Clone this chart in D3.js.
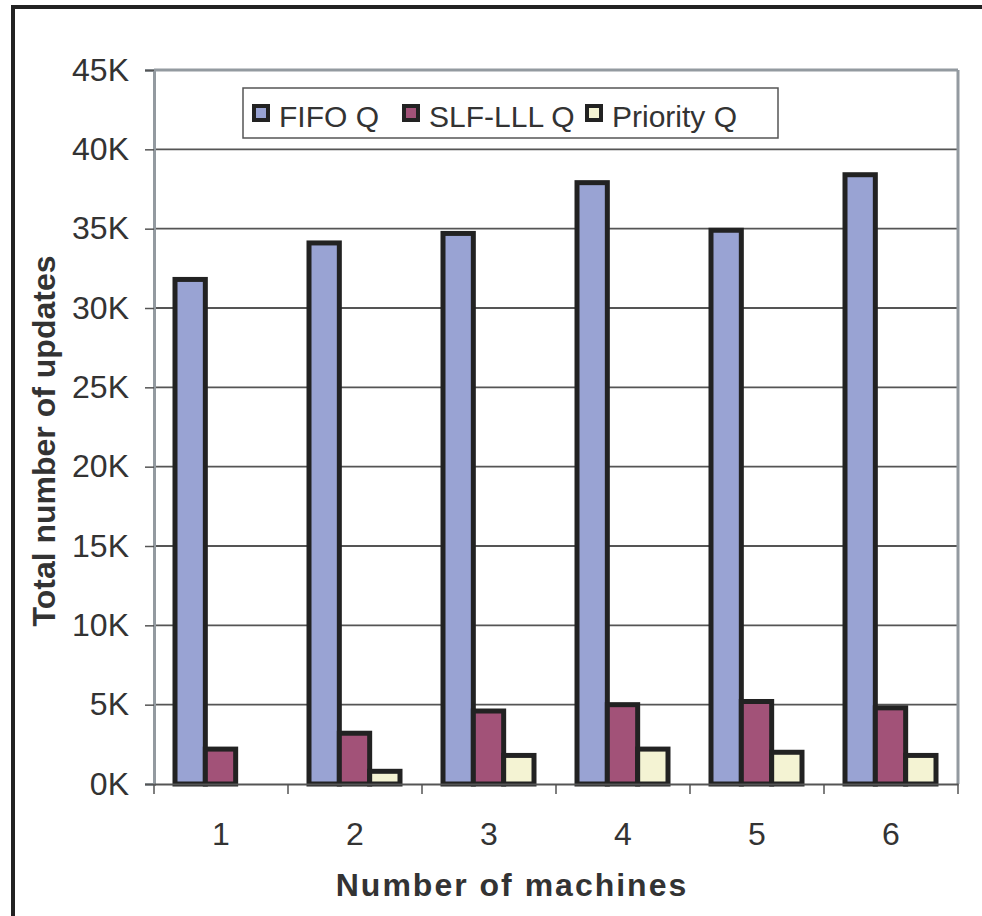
<!DOCTYPE html>
<html><head><meta charset="utf-8">
<script src="https://cdn.jsdelivr.net/npm/d3@7"></script>
<style>body{margin:0;background:#fff}svg{display:block}</style>
</head><body>
<svg id="c" width="982" height="916"></svg>
<script>
const categories = ["1","2","3","4","5","6"];
const seriesNames = ["FIFO Q","SLF-LLL Q","Priority Q"];
const fifo = [31.8, 34.1, 34.7, 37.9, 34.9, 38.4];
const slf = [2.2, 3.2, 4.6, 5.0, 5.2, 4.8];
const prio = [0, 0.8, 1.8, 2.2, 2.0, 1.8];
const yTicks = [0,5,10,15,20,25,30,35,40,45];
const colors = ["#99a3d3","#a25278","#f4f3d3"];
const series = [fifo, slf, prio];

const svg = d3.select("#c");
const L=154, R=958, T=70, B=784;
const font = "'Liberation Sans', Arial, sans-serif";

// outer frame
svg.append("rect").attr("x",13).attr("y",7).attr("width",1100).attr("height",1100)
  .attr("fill","none").attr("stroke","#222").attr("stroke-width",4);

const x = d3.scaleBand().domain(categories).range([L,R]);
const xs = d3.scaleBand().domain(seriesNames).range([21, x.bandwidth()-22]);
const y = d3.scaleLinear().domain([0,45]).range([B,T]);

// gridlines
svg.append("g").selectAll("line").data(yTicks.filter(d=>d>0 && d<45)).join("line")
  .attr("x1",L).attr("x2",R).attr("y1",d=>y(d)).attr("y2",d=>y(d))
  .attr("stroke","#555").attr("stroke-width",1.8);

// plot border top/right
svg.append("line").attr("x1",L).attr("x2",R).attr("y1",T).attr("y2",T).attr("stroke","#939aa0").attr("stroke-width",3);
svg.append("line").attr("x1",R).attr("x2",R).attr("y1",T).attr("y2",B).attr("stroke","#939aa0").attr("stroke-width",3);

// bars
series.forEach((vals,si)=>{
  svg.append("g").selectAll("rect").data(vals.map((v,i)=>({c:categories[i],v})).filter(d=>d.v>0)).join("rect")
    .attr("x",d=>x(d.c)+xs(seriesNames[si]))
    .attr("width",xs.bandwidth())
    .attr("y",d=>y(d.v))
    .attr("height",d=>B-y(d.v))
    .attr("fill",colors[si]).attr("stroke","#222").attr("stroke-width",5);
});

// y axis
const yAxis = d3.axisLeft(y).tickValues(yTicks).tickFormat(d=>d+"K").tickSize(9).tickPadding(16);
const gy = svg.append("g").attr("transform",`translate(${L},0)`).call(yAxis);
gy.select(".domain").attr("stroke","#939aa0").attr("stroke-width",3);
gy.selectAll(".tick line").attr("stroke","#555").attr("stroke-width",1.5);
gy.selectAll("text").attr("font-family",font).attr("font-size",32).attr("fill","#333");

// x axis
const xAxis = d3.axisBottom(x).tickSize(0).tickPadding(38);
const gx = svg.append("g").attr("transform",`translate(0,${B})`).call(xAxis);
gx.select(".domain").attr("stroke","#555").attr("stroke-width",2);
gx.selectAll("text").attr("font-family",font).attr("font-size",32).attr("fill","#333");
svg.append("g").selectAll("line").data(categories.concat(["end"])).join("line")
  .attr("x1",d=>d==="end"?R:x(d)).attr("x2",d=>d==="end"?R:x(d))
  .attr("y1",B).attr("y2",B+10).attr("stroke","#555").attr("stroke-width",1.5);

// axis titles
svg.append("text").attr("x",512).attr("y",896).attr("text-anchor","middle")
  .attr("font-family",font).attr("font-weight","bold").attr("font-size",32).attr("fill","#333")
  .attr("letter-spacing",2).text("Number of machines");
svg.append("text").attr("transform","translate(55,441) rotate(-90)").attr("text-anchor","middle")
  .attr("font-family",font).attr("font-weight","bold").attr("font-size",32).attr("fill","#333")
  .text("Total number of updates");

// legend
const lg = svg.append("g");
lg.append("rect").attr("x",243).attr("y",88).attr("width",535).attr("height",50)
  .attr("fill","#fff").attr("stroke","#555").attr("stroke-width",1.5);
const lx = [254, 404, 587];
seriesNames.forEach((n,i)=>{
  lg.append("rect").attr("x",lx[i]).attr("y",106).attr("width",14).attr("height",14)
    .attr("fill",colors[i]).attr("stroke","#222").attr("stroke-width",4);
  lg.append("text").attr("x",lx[i]+25).attr("y",127).attr("font-family",font)
    .attr("font-size",30).attr("fill","#333").text(n);
});
</script>
</body></html>
